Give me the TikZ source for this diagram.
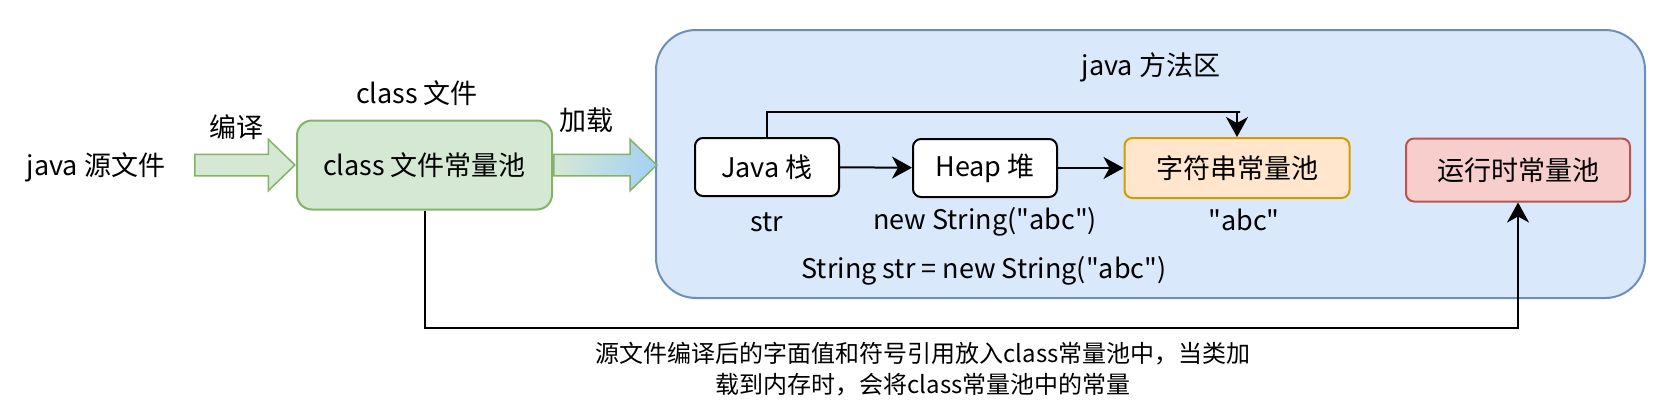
\documentclass[tikz,border=0pt]{standalone}
\usepackage{fontspec}
\setmainfont{Noto Sans CJK SC}[Ligatures=TeXOff]
\usetikzlibrary{arrows.meta, positioning, shapes.arrows}
\definecolor{grnfill}{HTML}{D5E8D4}
\definecolor{grnline}{HTML}{82B366}
\definecolor{bluefill}{HTML}{DAE8FC}
\definecolor{blueline}{HTML}{6C8EBF}
\definecolor{orgfill}{HTML}{FFE6CC}
\definecolor{orgline}{HTML}{D79B00}
\definecolor{redfill}{HTML}{F8CECC}
\definecolor{redline}{HTML}{B85450}
\definecolor{skyblue}{HTML}{A3D0F5}

\tikzset{
  bigfont/.style={font=\fontsize{27}{32}\selectfont},
  smallfont/.style={font=\fontsize{24}{31}\selectfont},
  memberbox/.style={draw, line width=2pt, rounded corners=8pt, minimum width=144pt, minimum height=58pt, bigfont},
  blockarrow/.style={single arrow, draw=grnline, line width=1.5pt, inner ysep=10pt, inner xsep=0pt,
    single arrow head extend=15pt, single arrow tip angle=88},
  link/.style={line width=2pt, -{Stealth[length=20pt, width=22pt, inset=6pt]}}
}

\begin{document}
\begin{tikzpicture}[x=1pt, y=-1pt]
  \useasboundingbox (0,0) rectangle (1664,416);

  % method area
  \node[draw=blueline, fill=bluefill, line width=2pt, rounded corners=40pt, minimum width=989pt, minimum height=268pt] (area) at (1150.5,164) {};
  \node[bigfont] (areatitle) at (1151,67) {java 方法区};

  % source and class file
  \node[bigfont] (src) at (96,167) {java 源文件};
  \node[draw=grnline, fill=grnfill, line width=2pt, rounded corners=15pt, minimum width=255pt, minimum height=89pt, bigfont] (cls) at (424.5,165) {class 文件常量池};
  \node[bigfont] (clstitle) at (417,93) {class 文件};

  % block arrows
  \node[blockarrow, fill=grnfill, minimum height=100pt, anchor=tip] (compile) at (cls.west) {};
  \node[bigfont] at (236,127) {编译};
  \node[blockarrow, left color=grnfill, right color=skyblue, minimum height=103pt, anchor=tail] (load) at (cls.east) {};
  \node[bigfont] at (586,120) {加载};

  % pools inside the method area
  \node[memberbox, fill=white] (jstack) at (767,167) {Java 栈};
  \node[memberbox, fill=white] (heap) at (985,168) {Heap 堆};
  \node[memberbox, draw=orgline, fill=orgfill, minimum width=225pt, minimum height=60pt] (spool) at (1237,168) {字符串常量池};
  \node[memberbox, draw=redline, fill=redfill, minimum width=224pt, minimum height=63pt] (rpool) at (1518,170) {运行时常量池};

  \node[bigfont] (strvar) at (767,222) {str};
  \node[bigfont] (newobj) at (985,222) {new String("abc")};
  \node[bigfont] (literal) at (1244,220) {"abc"};
  \node[bigfont] (code) at (984,271) {String str = new String("abc")};

  \draw[link] (jstack) -- (heap);
  \draw[link] (heap) -- (spool);
  \draw[link] (jstack.north) |- (1240,112) -- (1240,112 -| spool.north) -- (spool.north);
  \draw[link] (cls.south) |- (rpool.south |- 0,328) -- (rpool.south);

  \node[smallfont, align=center] (note) at (923,369) {源文件编译后的字面值和符号引用放入class常量池中，当类加\\载到内存时，会将class常量池中的常量};
\end{tikzpicture}
\end{document}
